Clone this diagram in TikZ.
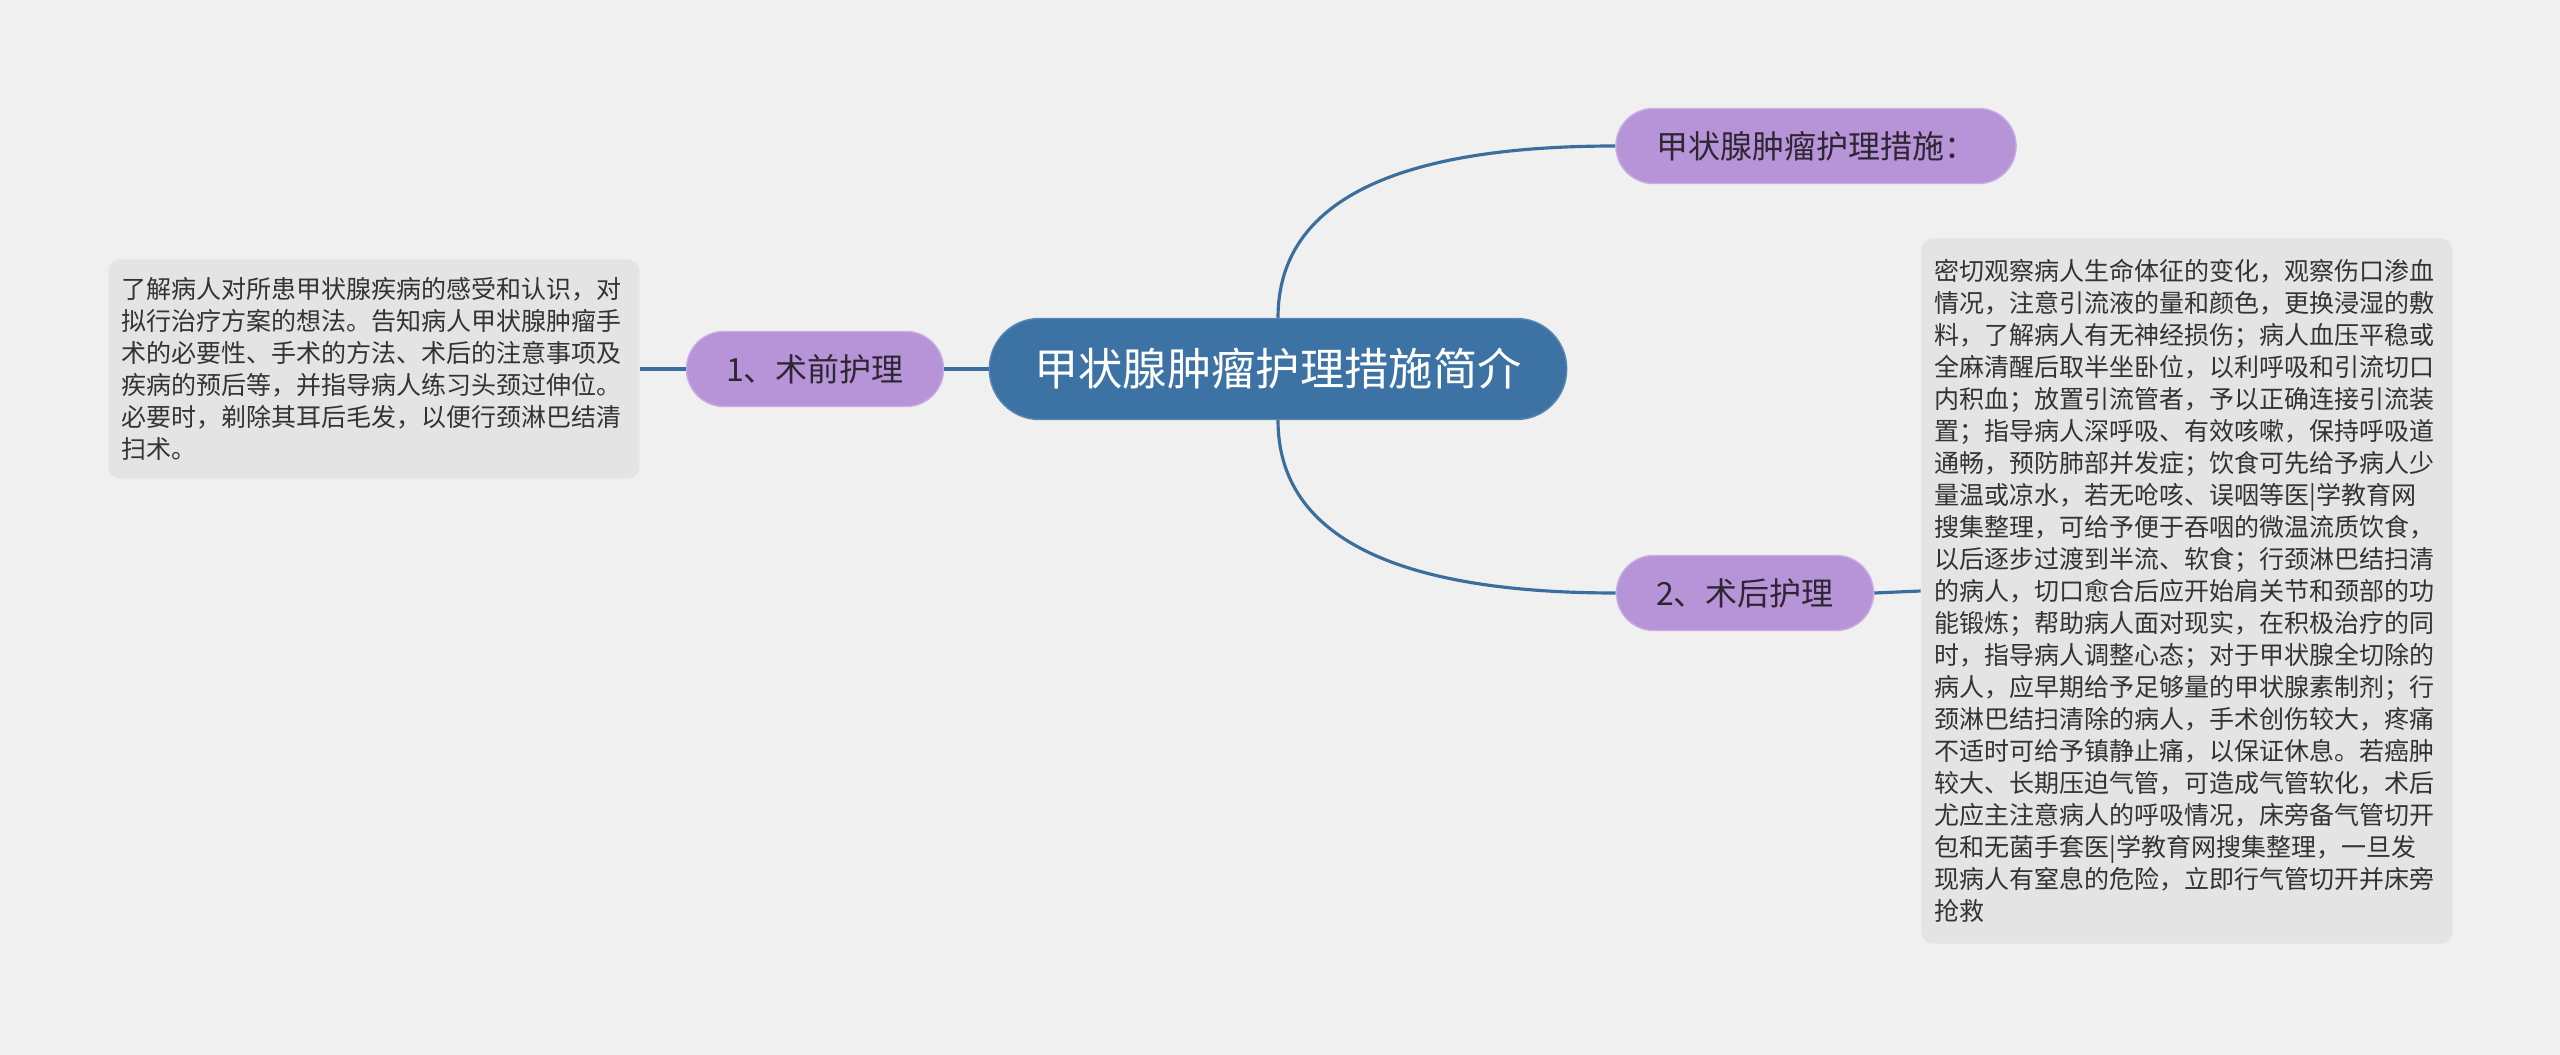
\documentclass[tikz,border=0pt]{standalone}
\usepackage{fontspec}
\setmainfont{Noto Sans CJK SC}
\usepackage{xcolor}
\usepackage{tikz}
\usetikzlibrary{positioning, calc}
\definecolor{fundo}{HTML}{F0F0F0}
\definecolor{azul}{HTML}{3D72A5}
\definecolor{azullig}{HTML}{3A6E9C}
\definecolor{roxo}{HTML}{B794D8}
\definecolor{roxoborda}{HTML}{C7AEE2}
\definecolor{cinza}{HTML}{E4E4E4}
\definecolor{escuro}{HTML}{2E2633}
\definecolor{texto}{HTML}{333333}
\tikzset{
    centro/.style = {draw=azul!85!white, fill=azul, rounded corners=0.5cm, text=white,
                     font=\fontsize{12.6pt}{12.6pt}\selectfont, minimum width=5.77cm,
                     minimum height=1.01cm, inner sep=0pt},
    topico/.style = {draw=roxoborda, fill=roxo, rounded corners=0.375cm, text=escuro,
                     font=\fontsize{9.1pt}{9.1pt}\selectfont, minimum height=0.75cm, inner sep=0pt},
    nota/.style   = {fill=cinza, rounded corners=0.12cm, text=texto, align=left,
                     font=\fontsize{7.11pt}{9.1pt}\selectfont, inner xsep=0.135cm, inner ysep=0pt},
    lig/.style    = {draw=azullig, line width=0.9pt},
}

\begin{document}
\begin{tikzpicture}[x=0.01cm, y=-0.01cm]
        % fundo
        \fill[fundo] (0,0) rectangle (2560,1055);
        \useasboundingbox (0,0) rectangle (2560,1055);
        % nó central e tópicos
        \node[centro] (raiz) at (1278,369) {甲状腺肿瘤护理措施简介};
        \node[topico, minimum width=4.0cm] (medidas) at (1816,146) {甲状腺肿瘤护理措施：};
        \node[topico, minimum width=2.57cm] (antes) at (815,369) {1、术前护理};
        \node[topico, minimum width=2.57cm] (depois) at (1745,593) {2、术后护理};
        % textos
        \node[nota, text width=5.04cm, minimum height=2.19cm] (antesTxt) at (374,369) {%
            了解病人对所患甲状腺疾病的感受和认识，对\\
            拟行治疗方案的想法。告知病人甲状腺肿瘤手\\
            术的必要性、手术的方法、术后的注意事项及\\
            疾病的预后等，并指导病人练习头颈过伸位。\\
            必要时，剃除其耳后毛发，以便行颈淋巴结清\\
            扫术。};
        \node[nota, text width=5.04cm, minimum height=7.05cm] (depoisTxt) at (2187,591) {%
            密切观察病人生命体征的变化，观察伤口渗血\\
            情况，注意引流液的量和颜色，更换浸湿的敷\\
            料，了解病人有无神经损伤；病人血压平稳或\\
            全麻清醒后取半坐卧位，以利呼吸和引流切口\\
            内积血；放置引流管者，予以正确连接引流装\\
            置；指导病人深呼吸、有效咳嗽，保持呼吸道\\
            通畅，预防肺部并发症；饮食可先给予病人少\\
            量温或凉水，若无呛咳、误咽等医|学教育网\\
            搜集整理，可给予便于吞咽的微温流质饮食，\\
            以后逐步过渡到半流、软食；行颈淋巴结扫清\\
            的病人，切口愈合后应开始肩关节和颈部的功\\
            能锻炼；帮助病人面对现实，在积极治疗的同\\
            时，指导病人调整心态；对于甲状腺全切除的\\
            病人，应早期给予足够量的甲状腺素制剂；行\\
            颈淋巴结扫清除的病人，手术创伤较大，疼痛\\
            不适时可给予镇静止痛，以保证休息。若癌肿\\
            较大、长期压迫气管，可造成气管软化，术后\\
            尤应主注意病人的呼吸情况，床旁备气管切开\\
            包和无菌手套医|学教育网搜集整理，一旦发\\
            现病人有窒息的危险，立即行气管切开并床旁\\
            抢救};
        % ligações
        \draw[lig] (raiz.west) -- (antes.east);
        \draw[lig] (antes.west) -- (antesTxt.east);
        \draw[lig] (raiz.north) .. controls +(0,-118) and +(-217,0) .. (medidas.west);
        \draw[lig] (raiz.south) .. controls +(0,118) and +(-217,0) .. (depois.west);
        \draw[lig] (depois.east) -- (depoisTxt.west);
    \end{tikzpicture}
\end{document}
